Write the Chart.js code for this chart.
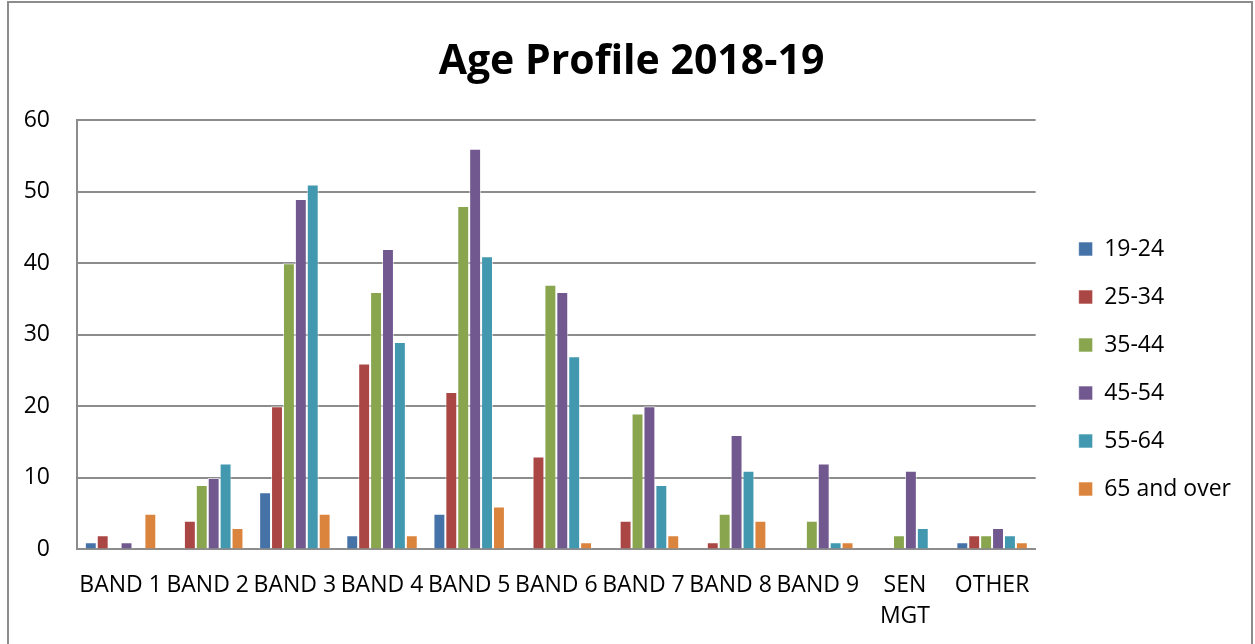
<!DOCTYPE html>
<html>
<head>
<meta charset="utf-8">
<script src="https://cdn.jsdelivr.net/npm/chart.js@4.4.1/dist/chart.umd.min.js"></script>
<style>
  body { margin: 0; background: #fff; }
  #wrap { position: relative; width: 1255px; height: 644px; }
  #frame { position: absolute; left: 7px; top: 1px; width: 1242px; height: 650px; border: 2px solid #8c8c8c; pointer-events: none; }
</style>
</head>
<body>
<div id="wrap">
  <canvas id="chart" width="1255" height="644"></canvas>
  <div id="frame"></div>
</div>
<script>
const categories = ['BAND 1', 'BAND 2', 'BAND 3', 'BAND 4', 'BAND 5', 'BAND 6', 'BAND 7', 'BAND 8', 'BAND 9', ['SEN', 'MGT'], 'OTHER'];
const age19_24 = [1, 0, 8, 2, 5, 0, 0, 0, 0, 0, 1];
const age25_34 = [2, 4, 20, 26, 22, 13, 4, 1, 0, 0, 2];
const age35_44 = [0, 9, 40, 36, 48, 37, 19, 5, 4, 2, 2];
const age45_54 = [1, 10, 49, 42, 56, 36, 20, 16, 12, 11, 3];
const age55_64 = [0, 12, 51, 29, 41, 27, 9, 11, 1, 3, 2];
const age65plus = [5, 3, 5, 2, 6, 1, 2, 4, 1, 0, 1];
const seriesNames = ['19-24', '25-34', '35-44', '45-54', '55-64', '65 and over'];
const seriesColors = ['#4572A7', '#AA4643', '#89A54E', '#71588F', '#4198AF', '#DB843D'];

const font = "'Open Sans', sans-serif";
const allSeries = [age19_24, age25_34, age35_44, age45_54, age55_64, age65plus];

new Chart(document.getElementById('chart'), {
    type: 'bar',
    data: {
        labels: categories,
        datasets: allSeries.map((d, i) => ({
            label: seriesNames[i],
            data: d,
            backgroundColor: seriesColors[i],
            borderColor: 'rgba(255,255,255,0.6)',
            borderWidth: 1,
            categoryPercentage: 0.82,
            barPercentage: 1.0
        }))
    },
    options: {
        responsive: false,
        animation: false,
        layout: { padding: { left: 22, right: 14, top: 38, bottom: 0 } },
        scales: {
            x: {
                grid: { display: false },
                border: { color: '#8c8c8c', width: 2 },
                ticks: { color: '#000', font: { family: font, size: 23, lineHeight: 1.36 }, maxRotation: 0, autoSkip: false, padding: 12 }
            },
            y: {
                min: 0,
                max: 60,
                ticks: { stepSize: 10, color: '#000', font: { family: font, size: 23 }, padding: 27 },
                grid: { color: '#8c8c8c', lineWidth: 2, drawTicks: false },
                border: { color: '#8c8c8c', width: 2 },
                afterFit: (s) => { s.width = 55; }
            },
            gap: {
                position: 'right',
                grid: { display: false, drawTicks: false },
                border: { display: false },
                ticks: { display: false },
                afterFit: (s) => { s.width = 18; }
            }
        },
        plugins: {
            title: {
                display: true,
                text: 'Age Profile 2018-19',
                color: '#000',
                font: { family: font, size: 41, weight: 'bold' },
                padding: { top: 0, bottom: 33 }
            },
            legend: {
                position: 'right',
                title: { display: true, text: ' ', font: { size: 10 }, padding: { top: 44, bottom: 0 } },
                labels: {
                    color: '#000',
                    font: { family: font, size: 23 },
                    boxWidth: 14,
                    boxHeight: 14,
                    padding: 25
                }
            },
            tooltip: { enabled: false }
        }
    }
});
</script>
</body>
</html>
